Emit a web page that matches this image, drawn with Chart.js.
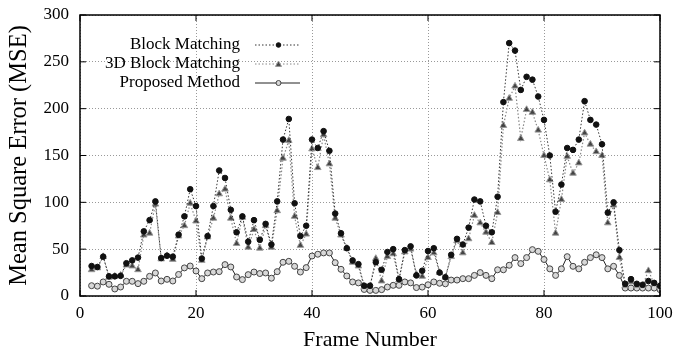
<!DOCTYPE html>
<html>
<head>
<meta charset="utf-8">
<script src="https://cdn.jsdelivr.net/npm/chart.js@4"></script>
<style>
  body { margin: 0; background: #fff; }
  #wrap { width: 674px; height: 353px; }
</style>
</head>
<body>
<div id="wrap"><canvas id="grafico" width="674" height="353"></canvas></div>
<script>
// frames 2..100
const frames = Array.from({ length: 99 }, (_, i) => i + 2);

const blockMatching = [
  32, 31, 42, 21, 21, 21.5, 35, 38, 41, 69,
  81, 101, 40.5, 43, 42, 65.5, 85, 114, 96, 40,
  64, 96, 134, 126, 92, 68, 85, 58, 81, 60,
  77, 55, 101, 167, 189, 99, 64, 75, 167, 158,
  176, 155, 88, 67, 51, 38, 34, 11, 11, 36,
  28, 47, 50, 18, 49, 53, 22, 27, 48, 51,
  25, 20, 44, 61, 55, 73, 103, 101, 75, 68,
  106, 207, 270, 262, 220, 234, 231, 213, 188, 150,
  90, 119, 158, 156, 167, 208, 188, 183, 162, 89,
  100, 49, 13, 18, 13, 12, 16, 14, 11
];

const blockMatching3D = [
  28, 30, 42, 20, 21, 22, 33, 32, 28, 65,
  67, 98, 39.5, 43, 39, 64, 75, 99, 80, 38,
  63, 83, 109, 114, 83, 56, 84, 52, 71, 51,
  75, 52, 91, 147, 166, 85, 54, 66, 157, 137,
  172, 141, 83, 65, 51, 36, 32, 10, 10, 40,
  16, 42, 45, 17, 47, 50, 23, 21, 41, 46,
  25, 20, 42, 59, 46, 61, 86, 78, 68, 57,
  89, 182, 211, 224, 168, 199, 196, 177, 150, 124,
  67, 103, 149, 131, 142, 174, 162, 154, 150, 78,
  97, 41, 11, 15, 11, 11, 27, 13, 10
];

const proposed = [
  11, 10.5, 15, 12.5, 7.5, 9.6, 15.7, 15.7, 13.2, 15.7,
  21, 24.6, 16, 17.8, 16, 23, 30, 32, 26.7, 18.5,
  24.6, 25.6, 26, 33.5, 31, 20.3, 17.5, 22.8, 25.6, 24,
  24.6, 19, 26, 36, 37, 31.7, 25.6, 30.3, 42.7, 44.6,
  46, 46, 35.6, 28.5, 21.4, 15, 14, 7, 6, 6,
  6.8, 9.6, 11.4, 11.4, 15, 14, 9, 9.5, 12, 15,
  13.6, 13, 17, 17, 18.5, 18.5, 22, 25, 22, 18.5,
  28, 28, 32.8, 41, 34.6, 41, 49.5, 47.7, 39, 29,
  22, 29, 42, 31.7, 29, 36, 41, 44, 41, 29,
  31.7, 22, 8.5, 8.5, 8.5, 8.5, 8.5, 8.5, 6.8
];

const seriesNames = ["Block Matching", "3D Block Matching", "Proposed Method"];
const xTicks = [0, 20, 40, 60, 80, 100];
const yTicks = [0, 50, 100, 150, 200, 250, 300];

const serif = "'Liberation Serif', 'DejaVu Serif', serif";

function toPoints(values) {
  return frames.map((f, i) => ({ x: f, y: values[i] }));
}

// marco, marcas interiores y leyenda
const marcoPlugin = {
  id: "marco",
  afterDraw(chart) {
    const { ctx, chartArea: a, scales } = chart;
    ctx.save();
    ctx.strokeStyle = "#000";
    ctx.lineWidth = 1.5;
    ctx.setLineDash([]);
    ctx.strokeRect(a.left, a.top, a.right - a.left, a.bottom - a.top);

    ctx.lineWidth = 1;
    ctx.beginPath();
    yTicks.forEach(v => {
      const y = scales.y.getPixelForValue(v);
      ctx.moveTo(a.left, y); ctx.lineTo(a.left + 6, y);
      ctx.moveTo(a.right, y); ctx.lineTo(a.right - 6, y);
    });
    xTicks.forEach(v => {
      const x = scales.x.getPixelForValue(v);
      ctx.moveTo(x, a.bottom); ctx.lineTo(x, a.bottom - 6);
      ctx.moveTo(x, a.top); ctx.lineTo(x, a.top + 6);
    });
    ctx.stroke();

    // leyenda
    const ds = chart.data.datasets;
    const textX = 240, lineX1 = 255, lineX2 = 300, rows = [45, 64, 83];
    ctx.font = "17px " + serif;
    ctx.fillStyle = "#000";
    ctx.textAlign = "right";
    ctx.textBaseline = "middle";
    ds.forEach((d, i) => {
      const y = rows[i];
      ctx.fillText(seriesNames[i], textX, y);
      ctx.strokeStyle = d.borderColor;
      ctx.lineWidth = 1;
      ctx.setLineDash(d.borderDash || []);
      ctx.beginPath();
      ctx.moveTo(lineX1, y);
      ctx.lineTo(lineX2, y);
      ctx.stroke();
      ctx.setLineDash([]);
      const mx = (lineX1 + lineX2) / 2 + 1;
      ctx.fillStyle = d.pointBackgroundColor;
      ctx.strokeStyle = d.pointBorderColor;
      ctx.beginPath();
      if (d.pointStyle === "triangle") {
        const r = 3;
        ctx.moveTo(mx, y - r);
        ctx.lineTo(mx + r, y + r * 0.8);
        ctx.lineTo(mx - r, y + r * 0.8);
        ctx.closePath();
      } else {
        ctx.arc(mx, y, d.pointRadius - 0.5, 0, Math.PI * 2);
      }
      ctx.fill();
      ctx.stroke();
      ctx.fillStyle = "#000";
    });
    ctx.restore();
  }
};

const ctx = document.getElementById("grafico").getContext("2d");

new Chart(ctx, {
  type: "line",
  data: {
    datasets: [
      {
        label: seriesNames[0],
        data: toPoints(blockMatching),
        borderColor: "#333",
        borderWidth: 1,
        borderDash: [1.5, 2],
        pointStyle: "circle",
        pointRadius: 2.8,
        pointBackgroundColor: "#111",
        pointBorderColor: "#111",
        pointBorderWidth: 1,
        tension: 0
      },
      {
        label: seriesNames[1],
        data: toPoints(blockMatching3D),
        borderColor: "#888",
        borderWidth: 1.2,
        borderDash: [1.5, 2],
        pointStyle: "triangle",
        pointRadius: 3.8,
        pointBackgroundColor: "#444",
        pointBorderColor: "#999",
        pointBorderWidth: 1,
        tension: 0
      },
      {
        label: seriesNames[2],
        data: toPoints(proposed),
        borderColor: "#222",
        borderWidth: 1,
        pointStyle: "circle",
        pointRadius: 3,
        pointBackgroundColor: "#d8d8d8",
        pointBorderColor: "#444",
        pointBorderWidth: 1,
        tension: 0
      }
    ]
  },
  options: {
    responsive: false,
    animation: false,
    layout: { padding: { left: 0, right: 14, top: 15, bottom: 0 } },
    plugins: {
      legend: { display: false },
      tooltip: { enabled: false }
    },
    scales: {
      x: {
        type: "linear",
        min: 0,
        max: 100,
        afterFit(scale) {
          scale.height = 57;
          scale.paddingLeft = 0;
          scale.paddingRight = 0;
        },
        afterBuildTicks(scale) { scale.ticks = xTicks.map(v => ({ value: v })); },
        ticks: { color: "#000", font: { family: serif, size: 17 }, padding: 7, maxRotation: 0 },
        grid: { color: "#999", lineWidth: 1, drawTicks: false },
        border: { display: false, dash: [1, 2] },
        title: {
          display: true,
          text: "Frame Number",
          color: "#000",
          font: { family: serif, size: 22 },
          padding: { top: 0, bottom: 0 }
        }
      },
      y: {
        min: 0,
        max: 300,
        afterFit(scale) {
          scale.width = 80;
          scale.paddingTop = 0;
          scale.paddingBottom = 0;
        },
        afterBuildTicks(scale) { scale.ticks = yTicks.map(v => ({ value: v })); },
        ticks: { color: "#000", font: { family: serif, size: 17 }, padding: 11 },
        grid: { color: "#999", lineWidth: 1, drawTicks: false },
        border: { display: false, dash: [1, 2] },
        title: {
          display: true,
          text: "Mean Square Error (MSE)",
          color: "#000",
          font: { family: serif, size: 24.5 },
          padding: { top: 5, bottom: 0 }
        }
      }
    }
  },
  plugins: [marcoPlugin]
});
</script>
</body>
</html>
